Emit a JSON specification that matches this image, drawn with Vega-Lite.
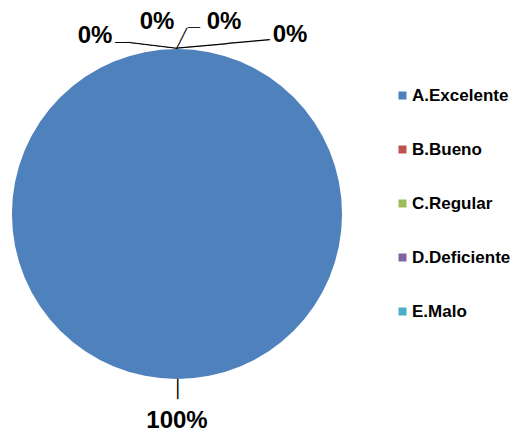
{
  "$schema": "https://vega.github.io/schema/vega-lite/v6.json",
  "width": 354,
  "height": 428,
  "padding": {"left": 0, "top": 0, "right": 157, "bottom": 4},
  "autosize": {"type": "none"},
  "background": "white",
  "data": {
    "values": [
      {"cat": "A.Excelente", "value": 100, "label": "100%"},
      {"cat": "B.Bueno", "value": 0, "label": "0%"},
      {"cat": "C.Regular", "value": 0, "label": "0%"},
      {"cat": "D.Deficiente", "value": 0, "label": "0%"},
      {"cat": "E.Malo", "value": 0, "label": "0%"}
    ]
  },
  "encoding": {
    "theta": {"field": "value", "type": "quantitative", "stack": true}
  },
  "layer": [
    {
      "mark": {"type": "arc", "outerRadius": 165},
      "encoding": {
        "color": {
          "field": "cat",
          "type": "nominal",
          "scale": {
            "domain": ["A.Excelente", "B.Bueno", "C.Regular", "D.Deficiente", "E.Malo"],
            "range": ["#4F81BD", "#C0504D", "#9BBB59", "#8064A2", "#4BACC6"]
          },
          "legend": {
            "orient": "none",
            "legendX": 394,
            "legendY": 87,
            "title": null,
            "symbolType": "square",
            "symbolSize": 64,
            "symbolStrokeWidth": 0,
            "labelFont": "Liberation Sans",
            "labelFontWeight": "bold",
            "labelFontSize": 17,
            "labelColor": "black",
            "labelOffset": 1,
            "rowPadding": 36,
            "labelLimit": 200
          }
        }
      }
    },
    {
      "transform": [{"filter": "datum.cat === 'A.Excelente'"}],
      "mark": {"type": "text", "radius": 165, "angle": 90, "align": "left", "baseline": "middle", "font": "DejaVu Sans Mono", "fontSize": 16.6, "color": "black", "text": "──"},
      "encoding": {}
    },
    {
      "transform": [{"filter": "datum.cat === 'B.Bueno'"}],
      "mark": {"type": "text", "radius": 165, "angle": 6.9, "align": "right", "baseline": "middle", "font": "DejaVu Sans Mono", "fontSize": 13.8, "color": "black", "text": "──────"},
      "encoding": {}
    },
    {
      "transform": [{"filter": "datum.cat === 'B.Bueno'"}],
      "mark": {"type": "text", "radius": 165, "dx": -49, "dy": -6, "align": "right", "baseline": "middle", "font": "DejaVu Sans Mono", "fontSize": 10.8, "color": "black", "text": "──"},
      "encoding": {}
    },
    {
      "transform": [{"filter": "datum.cat === 'C.Regular'"}],
      "mark": {"type": "text", "radius": 165, "angle": -63.4, "align": "left", "baseline": "middle", "font": "DejaVu Sans Mono", "fontSize": 13, "color": "black", "text": "───"},
      "encoding": {}
    },
    {
      "transform": [{"filter": "datum.cat === 'C.Regular'"}],
      "mark": {"type": "text", "radius": 165, "dx": 11, "dy": -21, "align": "left", "baseline": "middle", "font": "DejaVu Sans Mono", "fontSize": 10, "color": "black", "text": "──"},
      "encoding": {}
    },
    {
      "transform": [{"filter": "datum.cat === 'E.Malo'"}],
      "mark": {"type": "text", "radius": 165, "angle": -5.2, "align": "left", "baseline": "middle", "font": "DejaVu Sans Mono", "fontSize": 14.1, "color": "black", "text": "───────────"},
      "encoding": {}
    },
    {
      "transform": [{"filter": "datum.cat === 'A.Excelente'"}],
      "mark": {"type": "text", "radius": 207, "font": "Liberation Sans", "fontWeight": "bold", "fontSize": 24, "align": "center", "baseline": "middle", "color": "black"},
      "encoding": {"text": {"field": "label"}}
    },
    {
      "transform": [{"filter": "datum.cat === 'B.Bueno'"}],
      "mark": {"type": "text", "radius": 165, "dx": -82, "dy": -13, "font": "Liberation Sans", "fontWeight": "bold", "fontSize": 24, "align": "center", "baseline": "middle", "color": "black"},
      "encoding": {"text": {"field": "label"}}
    },
    {
      "transform": [{"filter": "datum.cat === 'C.Regular'"}],
      "mark": {"type": "text", "radius": 165, "dx": -20, "dy": -27, "font": "Liberation Sans", "fontWeight": "bold", "fontSize": 24, "align": "center", "baseline": "middle", "color": "black"},
      "encoding": {"text": {"field": "label"}}
    },
    {
      "transform": [{"filter": "datum.cat === 'D.Deficiente'"}],
      "mark": {"type": "text", "radius": 165, "dx": 47, "dy": -27, "font": "Liberation Sans", "fontWeight": "bold", "fontSize": 24, "align": "center", "baseline": "middle", "color": "black"},
      "encoding": {"text": {"field": "label"}}
    },
    {
      "transform": [{"filter": "datum.cat === 'E.Malo'"}],
      "mark": {"type": "text", "radius": 165, "dx": 113, "dy": -14, "font": "Liberation Sans", "fontWeight": "bold", "fontSize": 24, "align": "center", "baseline": "middle", "color": "black"},
      "encoding": {"text": {"field": "label"}}
    }
  ]
}
